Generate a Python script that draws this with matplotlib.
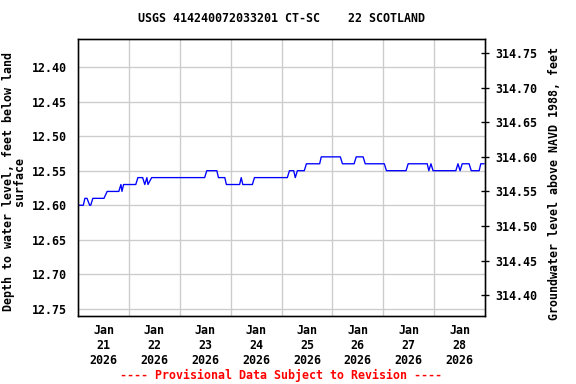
import datetime as dt
import matplotlib
matplotlib.use('Agg')
import matplotlib.pyplot as plt
import numpy as np

# Water level readings (hours since 2026-01-21 00:00, depth ft)
hours = [0, 2.5, 3.25, 4.25, 5.5, 6, 7, 12.25, 13.75, 19.25, 20.25, 20.75, 21.5,
         27.25, 28.25, 30.5, 31.5, 32.5, 33, 34.75, 59.75, 60.75, 65.5, 66.25,
         69.25, 70, 76.25, 77, 77.75, 82.25, 83.25, 98.75, 99.75, 101.75, 102.5,
         103.5, 106.75, 107.75, 114, 114.75, 123.75, 124.75, 130.25, 131.25,
         134.5, 135.5, 144.5, 145.5, 154.75, 155.75, 164.75, 165.5, 166.5, 167.5,
         178.25, 179.25, 180.25, 181.25, 184.5, 185.5, 189.25, 190, 191.5]
depth = [12.60, 12.60, 12.59, 12.59, 12.60, 12.60, 12.59, 12.59, 12.58, 12.58,
         12.57, 12.58, 12.57, 12.57, 12.56, 12.56, 12.57, 12.56, 12.57, 12.56,
         12.56, 12.55, 12.55, 12.56, 12.56, 12.57, 12.57, 12.56, 12.57, 12.57,
         12.56, 12.56, 12.55, 12.55, 12.56, 12.55, 12.55, 12.54, 12.54, 12.53,
         12.53, 12.54, 12.54, 12.53, 12.53, 12.54, 12.54, 12.55, 12.55, 12.54,
         12.54, 12.55, 12.54, 12.55, 12.55, 12.54, 12.55, 12.54, 12.54, 12.55,
         12.55, 12.54, 12.54]

datum = 327.13  # land surface elevation, NAVD 1988
left_ticks = [12.40, 12.45, 12.50, 12.55, 12.60, 12.65, 12.70, 12.75]
right_ticks = [314.40, 314.45, 314.50, 314.55, 314.60, 314.65, 314.70, 314.75]
day_labels = ['Jan\n21\n2026', 'Jan\n22\n2026', 'Jan\n23\n2026', 'Jan\n24\n2026',
              'Jan\n25\n2026', 'Jan\n26\n2026', 'Jan\n27\n2026', 'Jan\n28\n2026']

start = dt.datetime(2026, 1, 21)
times = [start + dt.timedelta(hours=h) for h in hours]

font = {'family': 'DejaVu Sans Mono', 'weight': 'bold', 'size': 8.7}

fig = plt.figure(figsize=(6, 4), dpi=96)
ax = fig.add_axes([78 / 576, 1 - 316 / 384, 407 / 576, 277 / 384])

ax.plot(times, depth, color='#0000ff', linewidth=1)

ax.set_xlim(start, start + dt.timedelta(days=8))
ax.set_ylim(12.7602, 12.3595)

# grid at midnights, labels at noon
ax.set_xticks([start + dt.timedelta(days=i) for i in range(1, 8)], minor=True)
ax.set_xticks([start + dt.timedelta(days=i, hours=12) for i in range(8)])
ax.set_xticklabels(day_labels, **font)
ax.grid(True, which='minor', axis='x', color='#cccccc', linewidth=1)
ax.set_yticks(left_ticks)
ax.set_yticklabels([f'{v:.2f}' for v in left_ticks], **font)
ax.grid(True, which='major', axis='y', color='#cccccc', linewidth=1)
ax.tick_params(axis='x', which='both', length=0, pad=6)
ax.tick_params(axis='y', length=0, pad=8)

ax2 = ax.twinx()
lo, hi = ax.get_ylim()
ax2.set_ylim(datum - lo, datum - hi)
ax2.set_yticks(right_ticks)
ax2.set_yticklabels([f'{v:.2f}' for v in right_ticks], **font)
ax2.tick_params(axis='y', direction='inout', length=6, width=1, pad=5)

for a in (ax, ax2):
    for s in a.spines.values():
        s.set_linewidth(1)
        s.set_color('black')

ax.set_ylabel('Depth to water level, feet below land\nsurface', fontdict=font,
              linespacing=0.85)
ax.yaxis.set_label_coords(-0.127, 0.484)
ax2.set_ylabel('Groundwater level above NAVD 1988, feet', fontdict=font)
ax2.yaxis.set_label_coords(1.155, 0.48)

fig.text(281 / 576, 1 - 19 / 384, 'USGS 414240072033201 CT-SC    22 SCOTLAND',
         ha='center', va='center', **font)
fig.text(281 / 576, 1 - 375 / 384, '---- Provisional Data Subject to Revision ----',
         ha='center', va='center', color='red', **font)

fig.savefig('out.png', dpi=96)
